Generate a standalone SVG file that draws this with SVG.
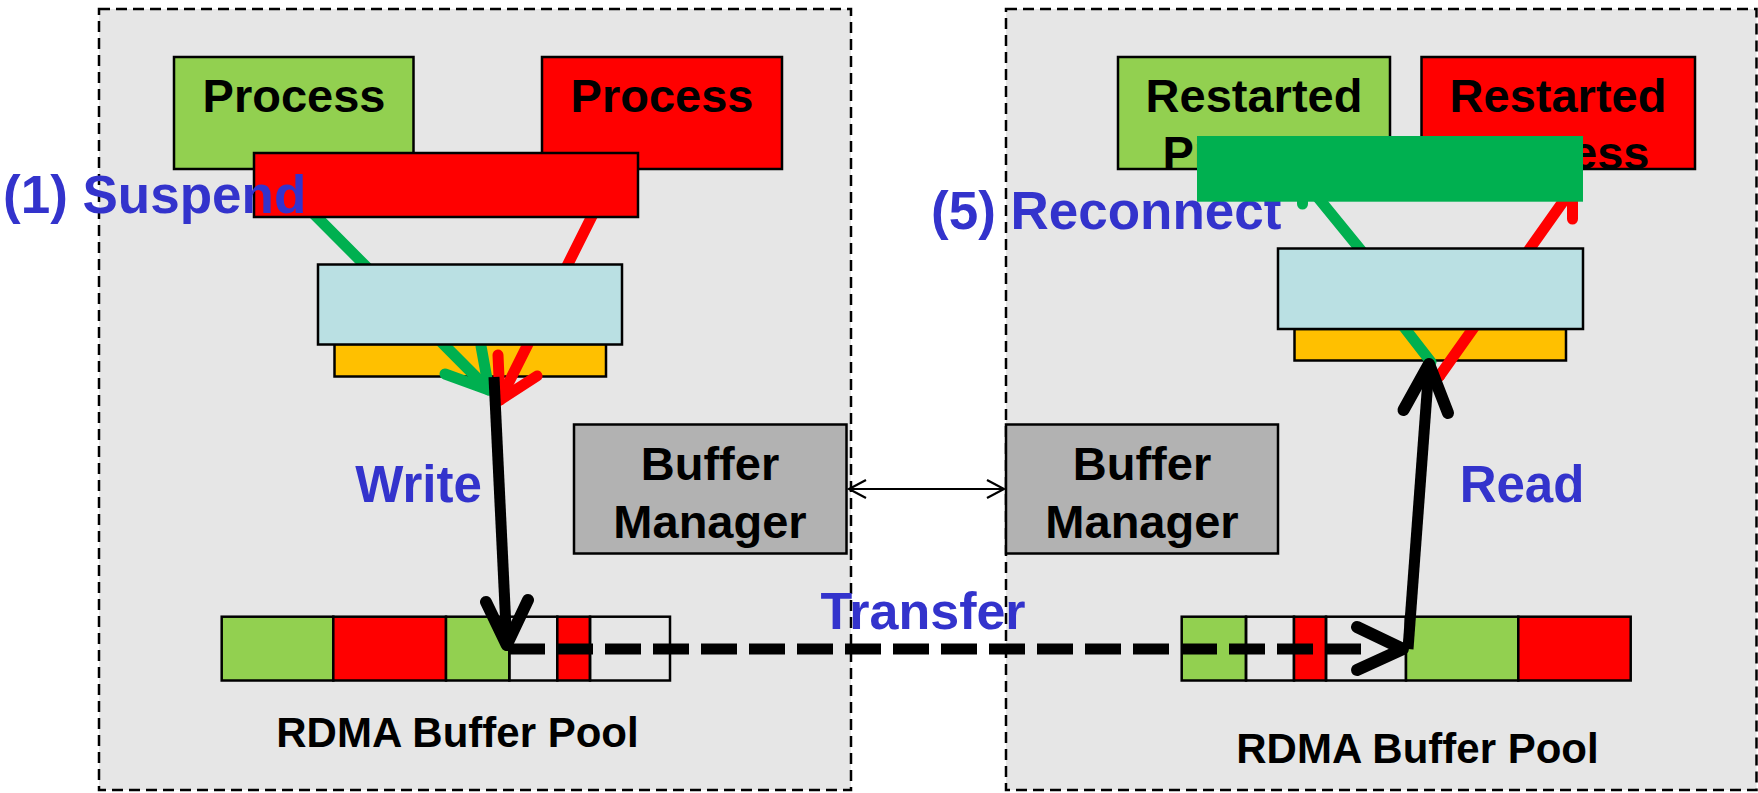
<svg xmlns="http://www.w3.org/2000/svg" width="1758" height="793" viewBox="0 0 1758 793">
  <defs>
    <style>
      .panel{fill:#E6E6E6;stroke:#000;stroke-width:2.5;stroke-dasharray:11 6}
      .box{stroke:#000;stroke-width:2.5}
      .lg{fill:#92D050}
      .rd{fill:#FF0000}
      .dg{fill:#00B050}
      .bl{fill:#BAE0E3}
      .yl{fill:#FFC000}
      .gy{fill:#B2B2B2}
      .seg{fill:none;stroke:#000;stroke-width:2.5}
      .t{font-family:"Liberation Sans",Arial,sans-serif;font-weight:bold;text-anchor:middle;fill:#000}
      .lbl{font-family:"Liberation Sans",Arial,sans-serif;font-weight:bold;fill:#3333CC}
      .gl{fill:none;stroke:#00B050;stroke-width:11;stroke-linecap:round;stroke-linejoin:round}
      .rl{fill:none;stroke:#FF0000;stroke-width:11;stroke-linecap:round;stroke-linejoin:round}
      .bk{fill:none;stroke:#000;stroke-width:11;stroke-linejoin:round}
      .head{fill:none;stroke:#000;stroke-width:12;stroke-linecap:round;stroke-linejoin:round}
      .thin{fill:none;stroke:#000;stroke-width:2.2}
    </style>
  </defs>

  <rect x="0" y="0" width="1758" height="793" fill="#FFFFFF"/>

  <!-- host panels -->
  <g id="host-left">
    <rect class="panel" x="99" y="9" width="752" height="781"/>
  </g>
  <g id="host-right">
    <rect class="panel" x="1006" y="9" width="750.5" height="781"/>
  </g>

  <!-- left host: processes being suspended -->
  <g id="proc-left-green">
    <rect class="box lg" x="174" y="57" width="239.5" height="112"/>
    <text class="t" x="294" y="112" font-size="47">Process</text>
  </g>
  <g id="proc-left-red">
    <rect class="box rd" x="542" y="57" width="240" height="112"/>
    <text class="t" x="662" y="112" font-size="47">Process</text>
  </g>
  <g id="nic-left-base">
    <rect class="box yl" x="334.5" y="344" width="271.5" height="32.5"/>
  </g>

  <!-- right host: restarted processes -->
  <g id="proc-right-green">
    <rect class="box lg" x="1118" y="57" width="272" height="112"/>
    <text class="t" x="1254" y="112" font-size="47">Restarted</text>
    <text class="t" x="1254" y="168.5" font-size="47">Process</text>
  </g>
  <g id="proc-right-red">
    <rect class="box rd" x="1421.5" y="57" width="273.5" height="112"/>
    <text class="t" x="1558" y="112" font-size="47">Restarted</text>
    <text class="t" x="1558" y="168.5" font-size="47">Process</text>
  </g>
  <text class="lbl" x="931" y="229" font-size="53">(5) Reconnect</text>
  <g id="nic-right-base">
    <rect class="box yl" x="1294.5" y="329" width="271.5" height="31.5"/>
  </g>

  <!-- connections between processes and the NIC -->
  <g id="connectors">
    <path class="gl" d="M300,200 L489,390"/>
    <path class="gl" d="M481,346 L489,390 L445,374"/>
    <path class="rl" d="M600,200 L500,400"/>
    <path class="rl" d="M498,355 L500,400 L537,376"/>

    <path class="gl" d="M1302,178 L1364,254 L1400,322 L1431,362" stroke-linecap="butt"/>
    <path class="gl" d="M1302.5,190 L1302.5,204"/>
    <path class="rl" d="M1567.8,195 L1439.5,376" stroke-linecap="butt"/>
    <path class="rl" d="M1439.5,376 L1439.5,376"/>
    <path class="rl" d="M1572.5,190 L1572.5,219"/>
  </g>

  <g id="suspend-bar">
    <rect class="box rd" x="254" y="153" width="384" height="64"/>
  </g>
  <text class="lbl" x="3" y="213" font-size="53">(1) Suspend</text>

  <g id="nic-left">
    <rect class="box bl" x="318" y="264.5" width="304" height="80"/>
  </g>
  <g id="nic-right">
    <rect class="box bl" x="1278" y="248.5" width="305" height="80.5"/>
  </g>
  <g id="reconnect-bar">
    <rect class="dg" x="1197" y="136" width="386" height="65.7"/>
  </g>

  <!-- buffer managers -->
  <g id="bm-left">
    <rect class="box gy" x="574" y="424.5" width="272.5" height="129"/>
    <text class="t" x="710" y="480" font-size="47">Buffer</text>
    <text class="t" x="710" y="538" font-size="47">Manager</text>
  </g>
  <g id="bm-right">
    <rect class="box gy" x="1006" y="424.5" width="272" height="129"/>
    <text class="t" x="1142" y="480" font-size="47">Buffer</text>
    <text class="t" x="1142" y="538" font-size="47">Manager</text>
  </g>

  <!-- RDMA buffer pools -->
  <g id="pool-left">
    <rect class="box lg" x="221.7" y="616.7" width="111.6" height="63.8"/>
    <rect class="box rd" x="333.3" y="616.7" width="112.7" height="63.8"/>
    <polygon class="lg" points="446,616.7 490,616.7 507,645 509.3,649 509.3,680.5 446,680.5"/>
    <rect class="seg" x="446" y="616.7" width="63.3" height="63.8"/>
    <rect class="seg" x="509.3" y="616.7" width="48" height="63.8"/>
    <rect class="box rd" x="557.3" y="616.7" width="32.7" height="63.8"/>
    <rect class="seg" x="590" y="616.7" width="80" height="63.8"/>
    <text class="t" x="457.5" y="746.5" font-size="42">RDMA Buffer Pool</text>
  </g>
  <g id="pool-right">
    <rect class="box lg" x="1181.7" y="616.7" width="64.3" height="63.8"/>
    <rect class="seg" x="1246" y="616.7" width="48" height="63.8"/>
    <rect class="box rd" x="1294" y="616.7" width="32" height="63.8"/>
    <rect class="seg" x="1326" y="616.7" width="80" height="63.8"/>
    <rect class="box lg" x="1406" y="616.7" width="112.3" height="63.8"/>
    <rect class="box rd" x="1518.3" y="616.7" width="112.4" height="63.8"/>
    <text class="t" x="1417.5" y="763.3" font-size="42">RDMA Buffer Pool</text>
  </g>

  <!-- data movement arrows -->
  <g id="flows">
    <path class="thin" d="M849,489 L1004,489"/>
    <path class="thin" d="M866,480 L849,489 L866,498"/>
    <path class="thin" d="M987,480 L1004,489 L987,498"/>

    <path class="bk" d="M494,377 L506.7,643"/>
    <path class="head" d="M486,602 L506.7,645 L528,600"/>

    <path fill="none" stroke="#000" stroke-width="11" stroke-dasharray="36 12" d="M509,649 L1362,649"/>
    <path class="head" d="M1357,627 L1403,649 L1357,670"/>

    <path class="bk" d="M1408,649 L1429,366"/>
    <path class="head" d="M1403.5,410 L1429,364 L1448,413"/>
  </g>

  <!-- step labels -->
  <text class="lbl" x="418.5" y="501.5" font-size="51" text-anchor="middle">Write</text>
  <text class="lbl" x="1522" y="501.5" font-size="51" text-anchor="middle">Read</text>
  <text class="lbl" x="923" y="628.5" font-size="52" text-anchor="middle">Transfer</text>
</svg>
